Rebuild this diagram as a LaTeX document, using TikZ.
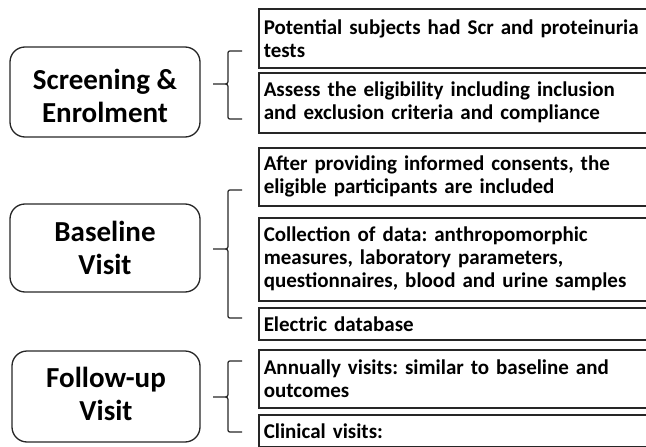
\documentclass[tikz,border=0pt]{standalone}
\usepackage{fontspec}
\setmainfont{Carlito}
\frenchspacing
\usetikzlibrary{decorations.pathreplacing}
% curly bracket: top end, tip, bottom end (y values)
\newcommand{\groupbrace}[3]{%
  \draw[grp] (242,#1) -- (232,#1) .. controls (228,#1) .. (228,#1+4) -- (228,#2-5)
    .. controls (228,#2) .. (222,#2) -- (213,#2) -- (222,#2)
    .. controls (228,#2) .. (228,#2+5) -- (228,#3-4) .. controls (228,#3) .. (232,#3) -- (242,#3);}

\begin{document}
\begin{tikzpicture}[x=1pt,y=-1pt,
    phase/.style={draw=black!85, line width=1.3pt, rounded corners=15pt, minimum width=190pt, minimum height=89pt, align=center, font=\fontsize{29}{33}\selectfont\bfseries},
    task/.style={draw=black!85, line width=1.5pt, anchor=north west, text width=388pt, inner xsep=5pt, align=left, font=\fontsize{21}{23}\selectfont\bfseries},
    grp/.style={draw=black!85, line width=1.2pt}]
			\useasboundingbox (0,0) rectangle (646,447);
			\clip (0,0) rectangle (646,447);
			% Phases
			\node[phase, minimum height=90pt] (screen) at (105,92) {\rule{0pt}{29pt}Screening \&\\Enrolment};
			\node[phase, minimum height=88pt] (baseline) at (105,248) {Baseline\\Visit};
			\node[phase, minimum height=91pt, minimum width=188pt] (followup) at (106,396.5) {Follow-up\\Visit\rule[-6pt]{0pt}{6pt}};
			% Tasks
			\node[task, minimum height=59pt] (s1) at (258,8) {Potential subjects had Scr and proteinuria\\tests};
			\node[task, minimum height=60pt] (s2) at (258,72) {Assess the eligibility including inclusion\\and exclusion criteria and compliance};
			\node[task, minimum height=58pt] (b1) at (258,147) {After providing informed consents, the\\eligible participants are included};
			\node[task, minimum height=83pt] (b2) at (258,217) {Collection of data: anthropomorphic\\measures, laboratory parameters,\\questionnaires, blood and urine samples};
			\node[task, minimum height=32pt] (b3) at (258,307) {Electric database};
			\node[task, minimum height=58pt] (f1) at (258,349) {Annually visits: similar to baseline and\\outcomes};
			\node[task, minimum height=32pt] (f2) at (258,414) {Clinical visits:};
			% Braces
			\groupbrace{51}{84}{119}
			\groupbrace{190}{249}{318}
			\groupbrace{361}{397}{432}
		\end{tikzpicture}
\end{document}
